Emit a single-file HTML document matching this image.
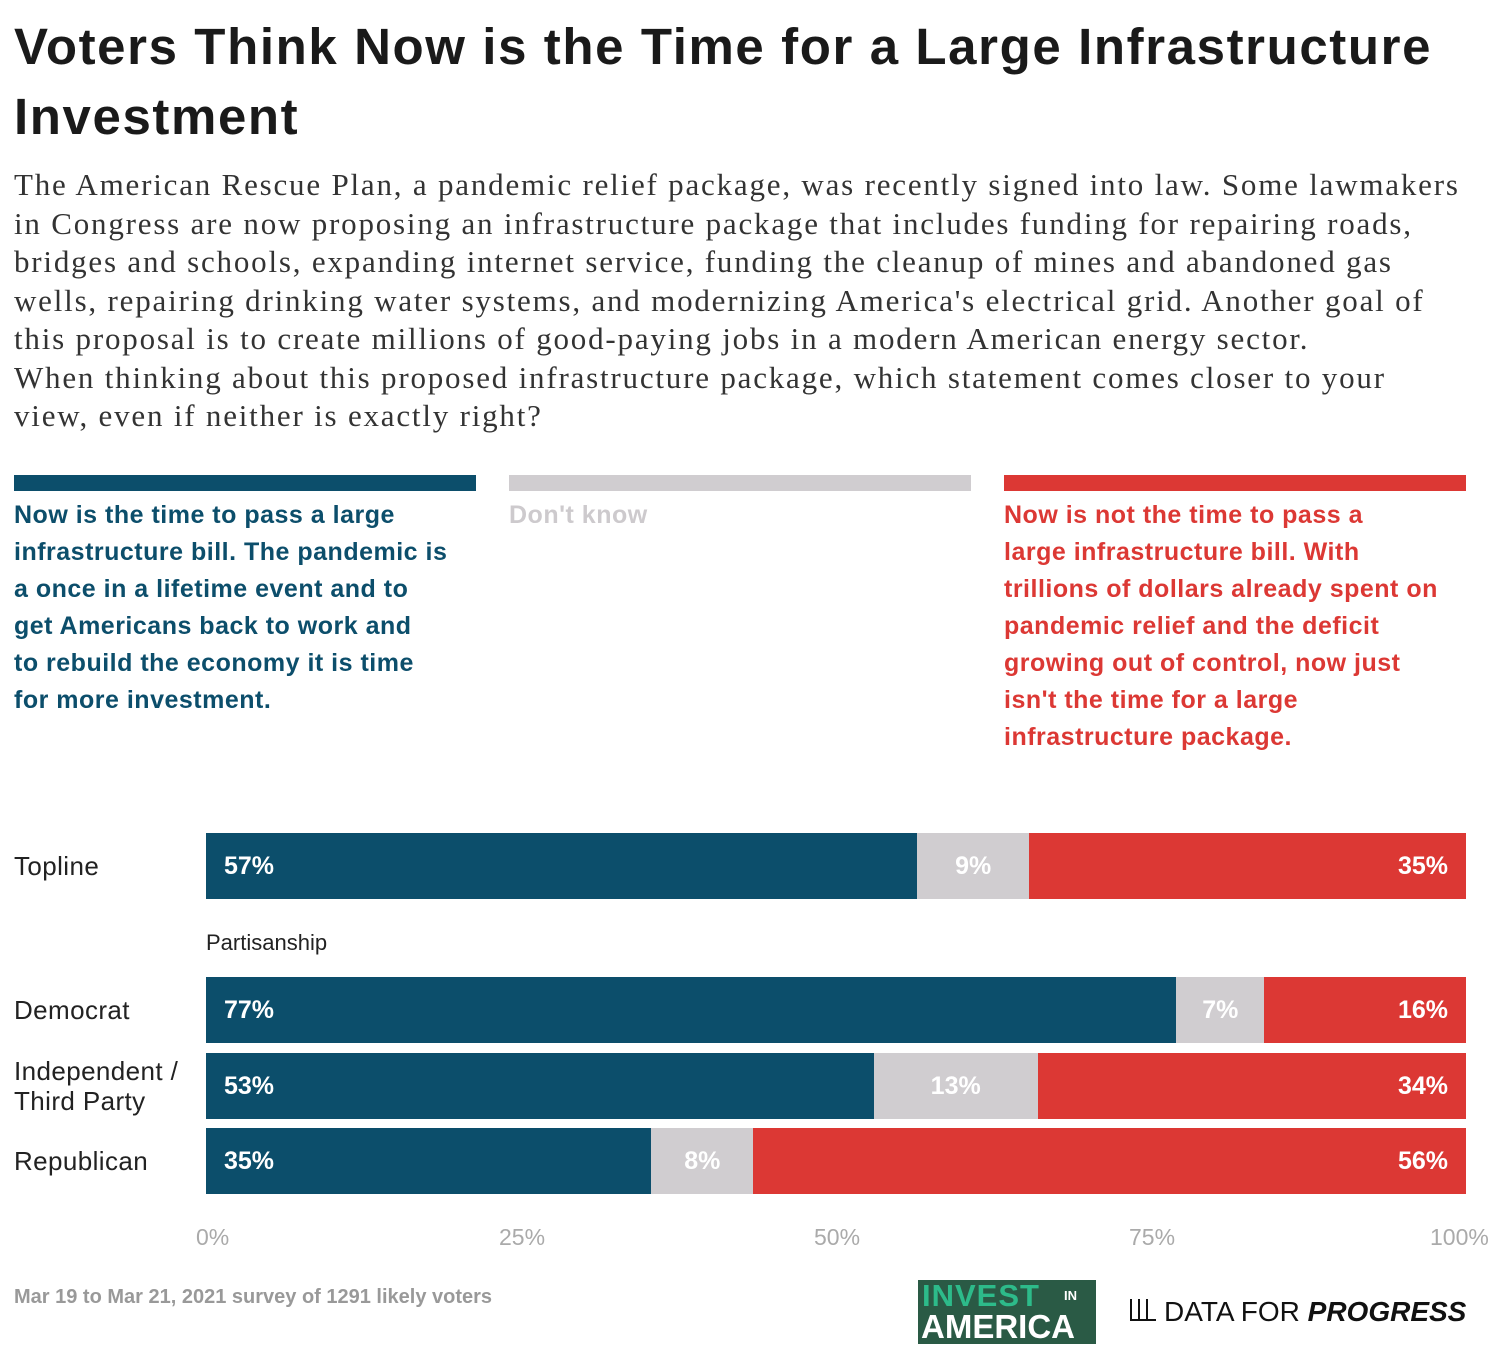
<!DOCTYPE html>
<html><head><meta charset="utf-8">
<style>
body{margin:0;width:1500px;height:1363px;background:#fff;position:relative;font-family:"Liberation Sans",sans-serif;overflow:hidden}
.abs{position:absolute}
h1{position:absolute;left:14px;top:12px;margin:0;font-size:51px;line-height:70px;font-weight:bold;color:#1a1a1a;width:1490px;letter-spacing:1.6px;white-space:nowrap}
.desc{position:absolute;left:14px;top:166px;width:1490px;font-family:"Liberation Serif",serif;font-size:31px;line-height:38.5px;color:#333;white-space:nowrap;letter-spacing:1.8px}
.lg{position:absolute;top:475px;width:462px}
.lg .bar{height:16px}
.lg .t{font-weight:bold;font-size:25px;line-height:37px;margin-top:6px;white-space:nowrap;letter-spacing:0.5px}
</style></head><body>
<h1>Voters Think Now is the Time for a Large Infrastructure<br>Investment</h1>
<div class="desc">The American Rescue Plan, a pandemic relief package, was recently signed into law. Some lawmakers<br>in Congress are now proposing an infrastructure package that includes funding for repairing roads,<br>bridges and schools, expanding internet service, funding the cleanup of mines and abandoned gas<br>wells, repairing drinking water systems, and modernizing America's electrical grid. Another goal of<br>this proposal is to create millions of good-paying jobs in a modern American energy sector.<br>When thinking about this proposed infrastructure package, which statement comes closer to your<br>view, even if neither is exactly right?</div>
<div class="lg" style="left:14px"><div class="bar" style="background:#0c4e6b"></div><div class="t" style="color:#0c4e6b">Now is the time to pass a large<br>infrastructure bill. The pandemic is<br>a once in a lifetime event and to<br>get Americans back to work and<br>to rebuild the economy it is time<br>for more investment.</div></div>
<div class="lg" style="left:509px"><div class="bar" style="background:#d0cdd0"></div><div class="t" style="color:#cdcacd">Don't know</div></div>
<div class="lg" style="left:1004px"><div class="bar" style="background:#dc3834"></div><div class="t" style="color:#dc3834">Now is not the time to pass a<br>large infrastructure bill. With<br>trillions of dollars already spent on<br>pandemic relief and the deficit<br>growing out of control, now just<br>isn't the time for a large<br>infrastructure package.</div></div>
<div class="abs" style="left:206px;top:930px;font-size:22px;color:#222">Partisanship</div>
<div id="chart"></div>
<div class="abs" style="left:14px;top:1286px;font-size:20px;color:#999;font-weight:bold">Mar 19 to Mar 21, 2021 survey of 1291 likely voters</div>
<div class="abs" style="left:918px;top:1280px;width:178px;height:64px;background:#2a5a45">
<div class="abs" style="left:4px;top:-2px;font-weight:bold;font-size:31px;color:#2dbb8a;letter-spacing:1px">INVEST</div>
<div class="abs" style="left:146px;top:8px;font-weight:bold;font-size:13px;color:#fff">IN</div>
<div class="abs" style="left:3px;top:28px;font-weight:bold;font-size:33px;color:#fff">AMERICA</div></div>
<div class="abs" style="left:1130px;top:1296px;font-size:28px;color:#111;white-space:nowrap"><span style="display:inline-block;width:26px;height:20px;border-bottom:2px solid #111;background:linear-gradient(90deg,#111 2px,transparent 2px,transparent 8px,#111 8px,#111 10px,transparent 10px,transparent 16px,#111 16px,#111 18px,transparent 18px);margin-right:8px"></span>DATA FOR <b><i>PROGRESS</i></b></div>
<script>
const categories=["Topline","Democrat","Independent /\nThird Party","Republican"];
const nowVals=[57,77,53,35];
const dkVals=[9,7,13,8];
const notVals=[35,16,34,56];
const ticks=[0,25,50,75,100];
const X0=206,X1=1466;
const tops=[833,977,1053,1128];
const H=66;
const x=v=>X0+(X1-X0)*v/100;
const c=document.getElementById('chart');
function div(css,txt){const d=document.createElement('div');d.className='abs';d.style.cssText=css;if(txt!==undefined)d.textContent=txt;c.appendChild(d);return d;}
categories.forEach((cat,i)=>{
 const tot=nowVals[i]+dkVals[i]+notVals[i];
 const segs=[[nowVals[i],'#0c4e6b','left'],[dkVals[i],'#d0cdd0','center'],[notVals[i],'#dc3834','right']];
 let acc=0;const top=tops[i];
 const lines=cat.split('\n');
 const l=div('left:14px;top:'+(top+H/2-lines.length*15)+'px;font-size:26px;line-height:30px;color:#222;white-space:pre;letter-spacing:0.4px',cat);
 
 
 segs.forEach((s,j)=>{
  const a=x(acc/tot*100),b=x((acc+s[0])/tot*100);acc+=s[0];
  const pad=s[2]==='left'?'padding-left:18px;':s[2]==='right'?'padding-right:18px;':'';
  const d=div('left:'+a+'px;top:'+top+'px;width:'+(b-a)+'px;height:'+H+'px;background:'+s[1]+';box-sizing:border-box;'+pad+'text-align:'+s[2]+';line-height:'+H+'px;color:#fff;font-weight:bold;font-size:25px',s[0]+'%');
  
  
 });
});
ticks.forEach((t,i)=>{
 const d=div('top:1224px;font-size:23px;color:#aaa;left:'+(x(t)-(i===0?10:i===4?36:22))+'px',t+'%');
 
 
});
</script>
</body></html>
